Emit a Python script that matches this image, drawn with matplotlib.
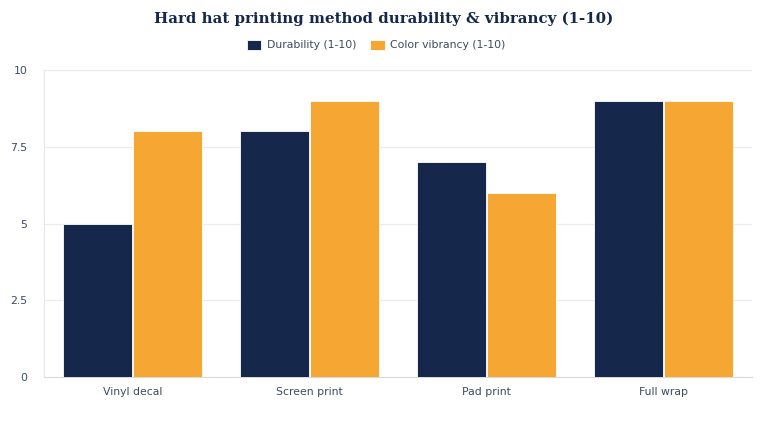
import matplotlib.pyplot as plt
import numpy as np

categories = ["Vinyl decal", "Screen print", "Pad print", "Full wrap"]
durability = [5, 8, 7, 9]
vibrancy = [8, 9, 6, 9]
series_names = ["Durability (1-10)", "Color vibrancy (1-10)"]
yticks = [0, 2.5, 5, 7.5, 10]
ytick_labels = ["0", "2.5", "5", "7.5", "10"]

navy = "#15284b"
orange = "#f5a633"
text_col = "#3d4a5f"

fig = plt.figure(figsize=(7.68, 4.24), dpi=100)
ax = fig.add_axes([44 / 768, 1 - 377 / 424, 708 / 768, 307 / 424])

x = np.arange(len(categories))
w = 0.39
ax.bar(x - w / 2 - 0.005, durability, w, color=navy, label=series_names[0],
       edgecolor="white", linewidth=0.6, zorder=3)
ax.bar(x + w / 2 + 0.005, vibrancy, w, color=orange, label=series_names[1],
       edgecolor="white", linewidth=0.6, zorder=3)

ax.set_xlim(-0.5, len(categories) - 0.5)
ax.set_ylim(0, 10)
ax.set_yticks(yticks)
ax.set_yticklabels(ytick_labels)
ax.set_xticks(x)
ax.set_xticklabels(categories)
ax.grid(axis="y", color="#ebebeb", linewidth=0.8, zorder=0)
for s in ["top", "right"]:
    ax.spines[s].set_visible(False)
ax.spines["left"].set_color("#e6e6e6")
ax.spines["bottom"].set_color("#d9d9d9")
ax.tick_params(axis="both", length=0, labelsize=7.8, colors=text_col)
ax.tick_params(axis="y", pad=12)
ax.tick_params(axis="x", pad=7)

fig.text(0.5, 1 - 19 / 424, "Hard hat printing method durability & vibrancy (1-10)",
         ha="center", va="center", fontsize=10.8, fontweight="bold",
         family="DejaVu Serif", color=navy)
fig.legend(loc="center", bbox_to_anchor=(0.49, 1 - 45 / 424), ncol=2, frameon=False,
           fontsize=7.8, handlelength=1.3, handleheight=1.1, columnspacing=1.3,
           handletextpad=0.5, labelcolor=text_col)

fig.savefig("out.png", dpi=100)
